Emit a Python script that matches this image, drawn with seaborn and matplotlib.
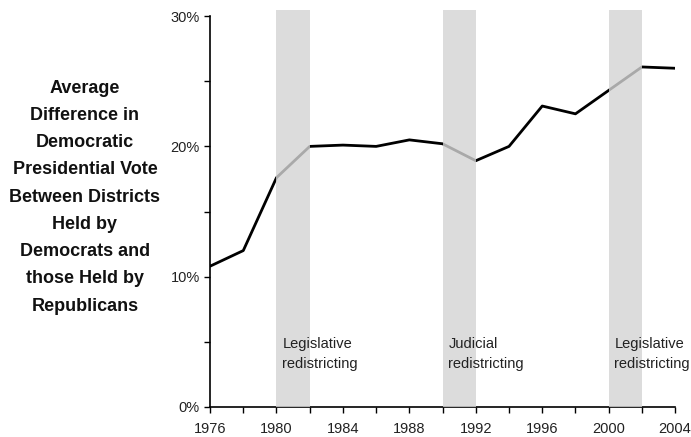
import matplotlib
matplotlib.use("Agg")
import matplotlib.pyplot as plt
import seaborn as sns
import pandas as pd
from matplotlib.ticker import MultipleLocator, FuncFormatter

# ====== Data ======
years = [1976, 1978, 1980, 1982, 1984, 1986, 1988, 1990, 1992, 1994, 1996, 1998, 2000, 2002, 2004]
avg_diff = [10.8, 12.0, 17.6, 20.0, 20.1, 20.0, 20.5, 20.2, 18.9, 20.0, 23.1, 22.5, 24.3, 26.1, 26.0]

span_starts = [1980, 1990, 2000]
span_ends = [1982, 1992, 2002]
span_labels = ["Legislative\nredistricting", "Judicial\nredistricting", "Legislative\nredistricting"]

ylabel = ("Average\nDifference in\nDemocratic\nPresidential Vote\nBetween Districts\n"
          "Held by\nDemocrats and\nthose Held by\nRepublicans")

df = pd.DataFrame({"year": years, "diff": avg_diff})

# ====== Plot ======
sns.set_style("ticks")
plt.rcParams["font.family"] = ["Liberation Sans", "DejaVu Sans"]

fig = plt.figure(figsize=(6.91, 4.37), dpi=100)
ax = fig.add_axes([0.304, 0.069, 0.673, 0.894])

sns.lineplot(data=df, x="year", y="diff", color="black", linewidth=2.0, ax=ax, zorder=2)

for s, e, lab in zip(span_starts, span_ends, span_labels):
    ax.axvspan(s, e, ymin=0, ymax=1.015, facecolor="#d4d4d4", alpha=0.8,
               edgecolor="none", zorder=3, clip_on=False)
    ax.text(s + 0.35, 5.4, lab, fontsize=10.5, color="#222222", va="top", ha="left",
            linespacing=1.6, zorder=4)

ax.set_xlim(1976, 2004)
ax.set_ylim(0, 30)
ax.xaxis.set_major_locator(MultipleLocator(4))
ax.xaxis.set_minor_locator(MultipleLocator(2))
ax.yaxis.set_major_locator(MultipleLocator(10))
ax.yaxis.set_minor_locator(MultipleLocator(5))
ax.yaxis.set_major_formatter(FuncFormatter(lambda v, p: f"{v:.0f}%"))
ax.tick_params(axis="both", which="both", direction="out", length=4, width=1, color="black",
               labelsize=10.5, labelcolor="#222222")
ax.tick_params(axis="x", which="major", pad=7)
ax.set_xlabel("")
ax.set_ylabel("")
sns.despine(ax=ax, top=True, right=True)
for sp in ["left", "bottom"]:
    ax.spines[sp].set_linewidth(1.2)
    ax.spines[sp].set_color("black")

fig.text(0.123, 0.549, ylabel, ha="center", va="center", fontsize=13,
         fontweight="bold", linespacing=1.79, color="#111111")

fig.savefig("out.png", dpi=100)
